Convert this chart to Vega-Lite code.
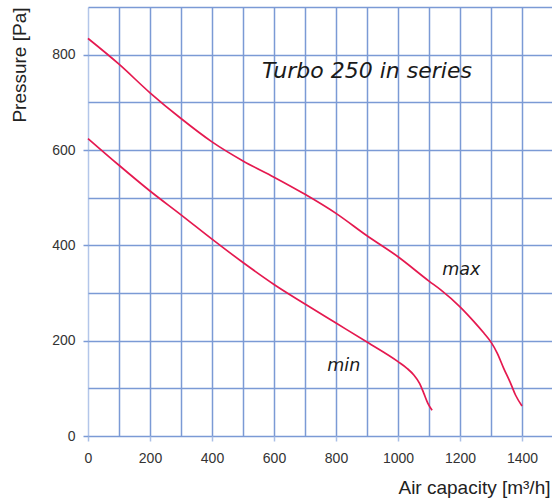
{
  "$schema": "https://vega.github.io/schema/vega-lite/v6.json",
  "width": 465,
  "height": 429,
  "autosize": {"type": "none"},
  "padding": {"left": 88, "top": 7, "right": 0, "bottom": 65},
  "background": "white",
  "view": {"stroke": null},
  "datasets": {
    "curves": [
      {"series": "max", "flow": 0, "pressure": 834},
      {"series": "max", "flow": 100, "pressure": 780},
      {"series": "max", "flow": 200, "pressure": 720},
      {"series": "max", "flow": 300, "pressure": 666},
      {"series": "max", "flow": 400, "pressure": 617},
      {"series": "max", "flow": 500, "pressure": 577},
      {"series": "max", "flow": 600, "pressure": 543},
      {"series": "max", "flow": 700, "pressure": 507},
      {"series": "max", "flow": 800, "pressure": 467},
      {"series": "max", "flow": 900, "pressure": 420},
      {"series": "max", "flow": 1000, "pressure": 376},
      {"series": "max", "flow": 1100, "pressure": 325},
      {"series": "max", "flow": 1137, "pressure": 307},
      {"series": "max", "flow": 1200, "pressure": 271},
      {"series": "max", "flow": 1245, "pressure": 240},
      {"series": "max", "flow": 1277, "pressure": 216},
      {"series": "max", "flow": 1299, "pressure": 198},
      {"series": "max", "flow": 1320, "pressure": 174},
      {"series": "max", "flow": 1341, "pressure": 142},
      {"series": "max", "flow": 1363, "pressure": 111},
      {"series": "max", "flow": 1379, "pressure": 86},
      {"series": "max", "flow": 1400, "pressure": 63},
      {"series": "min", "flow": 0, "pressure": 624},
      {"series": "min", "flow": 100, "pressure": 568},
      {"series": "min", "flow": 200, "pressure": 514},
      {"series": "min", "flow": 300, "pressure": 464},
      {"series": "min", "flow": 400, "pressure": 413},
      {"series": "min", "flow": 500, "pressure": 364},
      {"series": "min", "flow": 600, "pressure": 318},
      {"series": "min", "flow": 700, "pressure": 277},
      {"series": "min", "flow": 800, "pressure": 237},
      {"series": "min", "flow": 900, "pressure": 197},
      {"series": "min", "flow": 1000, "pressure": 156},
      {"series": "min", "flow": 1029, "pressure": 142},
      {"series": "min", "flow": 1051, "pressure": 128},
      {"series": "min", "flow": 1070, "pressure": 110},
      {"series": "min", "flow": 1083, "pressure": 90},
      {"series": "min", "flow": 1096, "pressure": 69},
      {"series": "min", "flow": 1110, "pressure": 54}
    ],
    "seriesLabels": [
      {"flow": 1204, "pressure": 338, "label": "max"},
      {"flow": 825, "pressure": 137, "label": "min"}
    ],
    "heading": [
      {"flow": 900, "pressure": 752, "label": "Turbo 250 in series"}
    ]
  },
  "layer": [
    {
      "data": {"name": "curves"},
      "mark": {"type": "line", "color": "#e5194f", "strokeWidth": 1.7, "interpolate": "monotone"},
      "encoding": {
        "x": {
          "field": "flow",
          "type": "quantitative",
          "scale": {"domain": [0, 1500], "nice": false, "zero": false},
          "axis": {
            "values": [0, 100, 200, 300, 400, 500, 600, 700, 800, 900, 1000, 1100, 1200, 1300, 1400, 1500],
            "tickCount": 40,
            "labelExpr": "datum.value % 200 === 0 ? datum.label : ''",
            "format": "d",
            "grid": true,
            "gridColor": {"condition": {"test": "datum.value === 0", "value": "#b3c6e9"}, "value": "#7b9ad5"},
            "gridWidth": 1.5,
            "gridOpacity": 1,
            "domain": false,
            "ticks": true,
            "tickSize": {"condition": {"test": "datum.value % 200 === 0", "value": 5}, "value": 0},
            "tickColor": "#a9bfe6",
            "tickWidth": 1.5,
            "labelFont": "Liberation Sans",
            "labelFontSize": 14,
            "labelColor": "#333333",
            "labelPadding": 10,
            "labelFlush": false,
            "labelOverlap": false,
            "title": "Air capacity [m³/h]",
            "titleFont": "Liberation Sans",
            "titleFontSize": 19,
            "titleFontWeight": "normal",
            "titleColor": "#222222",
            "titleAlign": "right",
            "titleAnchor": "end",
            "titleBaseline": "alphabetic",
            "titleX": 462,
            "titleY": 57
          }
        },
        "y": {
          "field": "pressure",
          "type": "quantitative",
          "scale": {"domain": [0, 900], "nice": false},
          "axis": {
            "values": [0, 100, 200, 300, 400, 500, 600, 700, 800, 900],
            "tickCount": 40,
            "labelExpr": "datum.value % 200 === 0 ? datum.label : ''",
            "format": "d",
            "grid": true,
            "gridColor": "#7b9ad5",
            "gridWidth": 1.5,
            "gridOpacity": 1,
            "domain": false,
            "ticks": true,
            "tickSize": {"condition": {"test": "datum.value % 200 === 0 && datum.value < 900", "value": 5}, "value": 0},
            "tickColor": "#7b9ad5",
            "tickWidth": 1.5,
            "labelFont": "Liberation Sans",
            "labelFontSize": 14,
            "labelColor": "#333333",
            "labelPadding": 8,
            "labelFlush": false,
            "labelOverlap": false,
            "title": "Pressure [Pa]",
            "titleFont": "Liberation Sans",
            "titleFontSize": 19,
            "titleFontWeight": "normal",
            "titleColor": "#222222",
            "titleAngle": -90,
            "titleAlign": "right",
            "titleAnchor": "end",
            "titleBaseline": "alphabetic",
            "titleX": -63,
            "titleY": 0
          }
        },
        "detail": {"field": "series", "type": "nominal"},
        "order": {"field": "flow", "type": "quantitative"}
      }
    },
    {
      "data": {"name": "seriesLabels"},
      "mark": {"type": "text", "font": "DejaVu Sans", "fontStyle": "italic", "fontSize": 17.5, "color": "#1a1a1a", "align": "center", "baseline": "alphabetic"},
      "encoding": {
        "x": {"field": "flow", "type": "quantitative"},
        "y": {"field": "pressure", "type": "quantitative"},
        "text": {"field": "label", "type": "nominal"}
      }
    },
    {
      "data": {"name": "heading"},
      "mark": {"type": "text", "font": "DejaVu Sans", "fontStyle": "italic", "fontSize": 22, "color": "#1a1a1a", "align": "center", "baseline": "alphabetic"},
      "encoding": {
        "x": {"field": "flow", "type": "quantitative"},
        "y": {"field": "pressure", "type": "quantitative"},
        "text": {"field": "label", "type": "nominal"}
      }
    }
  ]
}
